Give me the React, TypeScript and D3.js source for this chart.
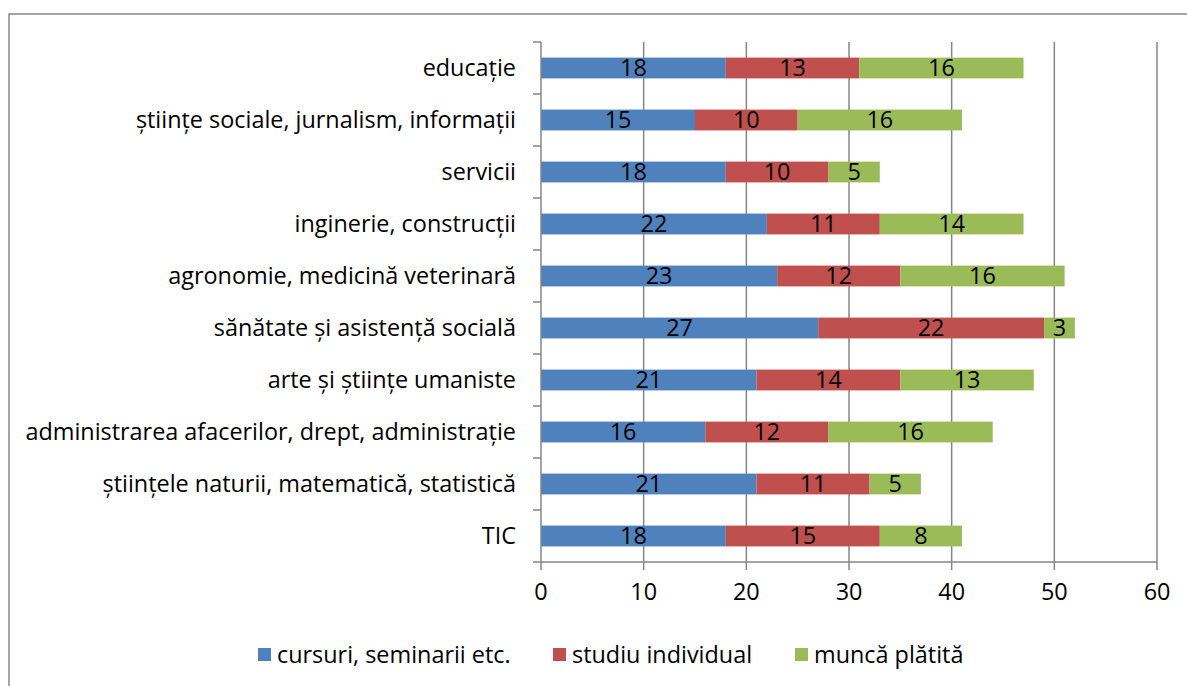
import React from "react";
import * as d3 from "d3";

const categories = [
  "educație",
  "științe sociale, jurnalism, informații",
  "servicii",
  "inginerie, construcții",
  "agronomie, medicină veterinară",
  "sănătate și asistență socială",
  "arte și științe umaniste",
  "administrarea afacerilor, drept, administrație",
  "științele naturii, matematică, statistică",
  "TIC",
];
const seriesNames = ["cursuri, seminarii etc.", "studiu individual", "muncă plătită"];
const cursuri = [18, 15, 18, 22, 23, 27, 21, 16, 21, 18];
const studiu = [13, 10, 10, 11, 12, 22, 14, 12, 11, 15];
const munca = [16, 16, 5, 14, 16, 3, 13, 16, 5, 8];
const xTicks = [0, 10, 20, 30, 40, 50, 60];
const colors = ["#4F81BD", "#C0504D", "#9BBB59"];

const FONT = "'Open Sans', Lato, sans-serif";
const FS = 23.4;

export default function App() {
  const W = 1187, H = 686;
  const x = d3.scaleLinear().domain([0, 60]).range([541, 1157]);
  const y = d3.scaleBand<string>().domain(categories).range([42, 562]).paddingInner(0.6).paddingOuter(0.3);
  const band = d3.scaleBand<string>().domain(categories).range([42, 562]);
  const rows = categories.map((c, i) => ({ c, v: [cursuri[i], studiu[i], munca[i]] }));
  const stacked = d3.stack<any>().keys(["0", "1", "2"]).value((d, k) => d.v[+k])(rows);
  const gridColor = "#868686";
  return (
    <svg width={W} height={H} style={{ display: "block", position: "absolute", left: 0, top: 0 }} fontFamily={FONT}>
      <rect x={0} y={0} width={W} height={H} fill="#fff" />
      <rect x={9} y={14} width={W + 10} height={H + 10} fill="none" stroke={gridColor} strokeWidth={1.5} />
      {xTicks.filter((t) => t > 0).map((t) => (
        <line key={t} x1={x(t)} x2={x(t)} y1={42} y2={562} stroke={gridColor} strokeWidth={1.5} />
      ))}
      {stacked.map((s, si) =>
        s.map((d, i) => {
          const x0 = x(d[0]);
          const x1 = x(d[1]);
          const yy = y(categories[i])!;
          return (
            <g key={si + "-" + i}>
              <rect x={x0} y={yy} width={x1 - x0} height={y.bandwidth()} fill={colors[si]} />
              <text x={(x0 + x1) / 2} y={yy + y.bandwidth() / 2} dy="0.36em" textAnchor="middle" fontSize={FS} fill="#000">
                {d[1] - d[0]}
              </text>
            </g>
          );
        })
      )}
      <line x1={541} x2={541} y1={42} y2={562} stroke={gridColor} strokeWidth={1.5} />
      <line x1={533} x2={1157} y1={562} y2={562} stroke={gridColor} strokeWidth={1.5} />
      {categories.map((c) => (
        <line key={"t" + c} x1={533} x2={541} y1={band(c)!} y2={band(c)!} stroke={gridColor} strokeWidth={1.5} />
      ))}
      {categories.map((c) => (
        <text key={"l" + c} x={516} y={band(c)! + band.bandwidth() / 2} dy="0.36em" textAnchor="end" fontSize={FS} fill="#000">
          {c}
        </text>
      ))}
      {xTicks.map((t) => (
        <g key={"x" + t}>
          <line x1={x(t)} x2={x(t)} y1={562} y2={570} stroke={gridColor} strokeWidth={1.5} />
          <text x={x(t)} y={600} textAnchor="middle" fontSize={FS} fill="#000">
            {t}
          </text>
        </g>
      ))}
      {seriesNames.map((n, i) => {
        const lx = [258, 553, 795][i];
        return (
          <g key={n}>
            <rect x={lx} y={648} width={13} height={13} fill={colors[i]} />
            <text x={lx + 19} y={663} fontSize={FS} fill="#000">
              {n}
            </text>
          </g>
        );
      })}
    </svg>
  );
}
